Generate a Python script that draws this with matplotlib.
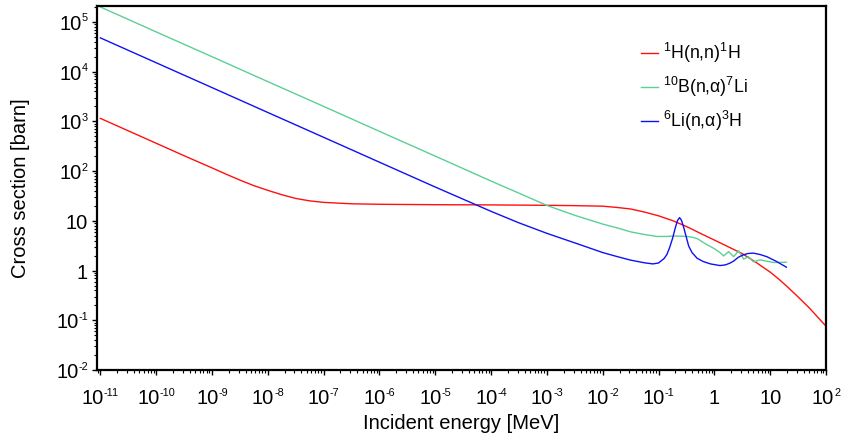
import numpy as np
import matplotlib
matplotlib.use("Agg")
import matplotlib.pyplot as plt
from matplotlib.ticker import LogLocator, NullFormatter

plt.rcParams['font.family'] = ['Liberation Sans', 'DejaVu Sans']
plt.rcParams['mathtext.fontset'] = 'custom'
plt.rcParams['mathtext.rm'] = 'Liberation Sans'
plt.rcParams['mathtext.it'] = 'Liberation Sans:italic'
plt.rcParams['mathtext.default'] = 'regular'

# ---- data (energies in MeV, cross sections in barn) ----
h_E = [1e-11, 1e-10, 3.16e-10, 1e-9, 1.78e-9, 3.16e-9, 5.62e-9, 1e-8, 1.78e-8, 3.16e-8,
       5.62e-8, 1e-7, 3.16e-7, 1e-6, 1e-5, 1e-4, 1e-3, 3.16e-3, 1e-2, 0.0178, 0.0316,
       0.0562, 0.1, 0.178, 0.316, 0.562, 1.0, 1.78, 3.16, 5.62, 10.0, 14.1, 20.0,
       31.6, 50.0, 100.0]
h_sig = [1150, 363, 204, 116, 87, 66, 51, 41, 33.5, 28.2,
         25.2, 23.5, 22.0, 21.5, 21.1, 20.9, 20.5, 20.2, 19.7, 18.6, 17.3,
         15.0, 12.6, 10.1, 7.7, 5.6, 4.1, 3.0, 2.19, 1.45, 0.93, 0.68, 0.48,
         0.295, 0.178, 0.076]

b_E = [1e-11, 1e-10, 1e-9, 1e-8, 1e-7, 1e-6, 1e-5, 1e-4, 3.16e-4, 1e-3, 3.16e-3,
       1e-2, 0.0178, 0.0316, 0.0562, 0.0933, 0.141, 0.184, 0.282, 0.355, 0.427,
       0.501, 0.562, 0.741, 0.977, 1.26, 1.46, 1.8, 2.21, 2.72, 3.35, 4.07, 5.01,
       6.61, 11.5, 19.5]
b_sig = [2.0e5, 63000, 20000, 6300, 2000, 630, 200, 63, 36, 20.4, 12.9,
         8.6, 7.25, 6.0, 5.3, 4.85, 4.85, 4.95, 4.9, 4.8, 4.6,
         4.35, 4.0, 3.3, 2.8, 2.3, 1.97, 2.4, 1.9, 2.5, 1.7, 1.9, 1.5,
         1.64, 1.45, 1.47]

li_E = [1e-11, 1e-10, 1e-9, 1e-8, 1e-7, 1e-6, 1e-5, 1e-4, 3.16e-4, 1e-3, 3.16e-3,
        1e-2, 0.0178, 0.0316, 0.0562, 0.0794, 0.1, 0.126, 0.141, 0.158, 0.178, 0.2,
        0.219, 0.238, 0.257, 0.282, 0.316, 0.347, 0.398, 0.49, 0.631, 0.851, 1.26,
        1.58, 1.93, 2.21, 2.69, 3.31, 3.98, 5.01, 6.61, 8.71, 12.6, 19.5]
li_sig = [47800, 15100, 4780, 1510, 478, 151, 47.8, 15.5, 9.1, 5.6, 3.6,
          2.3, 1.92, 1.62, 1.43, 1.36, 1.42, 1.75, 2.1, 2.9, 4.4, 7.3,
          10.2, 11.6, 10.3, 7.4, 4.6, 3.1, 2.3, 1.77, 1.52, 1.36, 1.26,
          1.3, 1.42, 1.55, 1.85, 2.07, 2.2, 2.24, 2.1, 1.9, 1.55, 1.17]

labels = [r'$^{1}$H(n,n)$^{1}$H', r'$^{10}$B(n,α)$^{7}$Li', r'$^{6}$Li(n,α)$^{3}$H']
colors = ['#ff1010', '#5ccf95', '#1010f5']

x_decades = list(range(-11, 3))
y_decades = list(range(-2, 6))

FS = 14.5      # main label size (pt)
FS_SUP = 7.8   # superscript size (pt)
PX = 0.72      # points per pixel at 100 dpi

fig = plt.figure(figsize=(8.41, 4.36), dpi=100)
ax = fig.add_axes([97/841, 1 - 370/436, (826 - 97)/841, (370 - 6)/436])

for E, s, lab, c in zip([h_E, b_E, li_E], [h_sig, b_sig, li_sig], labels, colors):
    ax.plot(E, s, color=c, lw=1.0, label=lab)

ax.set_xscale('log')
ax.set_yscale('log')
ax.set_xlim(10**-11.06, 1e2)
ax.set_ylim(1e-2, 2.09e5)

for axis in (ax.xaxis, ax.yaxis):
    axis.set_major_locator(LogLocator(base=10, numticks=30))
    axis.set_minor_locator(LogLocator(base=10, subs=np.arange(2, 10), numticks=30))
    axis.set_minor_formatter(NullFormatter())

ax.tick_params(which='major', direction='out', length=3.5, width=1.0,
               labelbottom=False, labelleft=False)
ax.tick_params(which='minor', direction='out', length=2, width=0.8)
ax.tick_params(top=False, right=False, which='both')
for sp in ax.spines.values():
    sp.set_linewidth(1.6)

renderer = fig.canvas.get_renderer()


def parts(n):
    if n == 0:
        return '1', ''
    if n == 1:
        return '10', ''
    return '10', str(n)


# x tick labels: "10" with small raised exponent, centred on the tick
for n in x_decades:
    base, sup = parts(n)
    v = 10.0 ** n
    t1 = ax.annotate(base, xy=(v, 0), xycoords=('data', 'axes fraction'),
                     xytext=(0, -34 * PX), textcoords='offset points',
                     ha='left', va='baseline', fontsize=FS, annotation_clip=False)
    w1 = t1.get_window_extent(renderer).width
    w2 = 0
    t2 = None
    if sup:
        t2 = ax.annotate(sup, xy=(v, 0), xycoords=('data', 'axes fraction'),
                         xytext=(0, -26 * PX), textcoords='offset points',
                         ha='left', va='baseline', fontsize=FS_SUP, annotation_clip=False)
        w2 = t2.get_window_extent(renderer).width
    total = w1 + w2
    t1.xyann = (-total / 2 * PX, -34 * PX)
    if t2 is not None:
        t2.xyann = ((-total / 2 + w1) * PX, -26 * PX)

# y tick labels: right aligned next to the axis
for n in y_decades:
    base, sup = parts(n)
    v = 10.0 ** n
    w2 = 0
    if sup:
        t2 = ax.annotate(sup, xy=(0, v), xycoords=('axes fraction', 'data'),
                         xytext=(-9 * PX, 0.5 * PX), textcoords='offset points',
                         ha='right', va='baseline', fontsize=FS_SUP, annotation_clip=False)
        w2 = t2.get_window_extent(renderer).width
    ax.annotate(base, xy=(0, v), xycoords=('axes fraction', 'data'),
                xytext=((-9 - w2) * PX, -8 * PX), textcoords='offset points',
                ha='right', va='baseline', fontsize=FS, annotation_clip=False)

ax.set_xlabel('Incident energy [MeV]', fontsize=FS, va='baseline')
ax.xaxis.set_label_coords(0.5, (370 - 429) / 364)
ax.set_ylabel('Cross section [barn]', fontsize=FS, va='center')
ax.yaxis.set_label_coords((21 - 97) / 729, 0.5)

ax.legend(loc='upper left', bbox_to_anchor=((641 - 97) / 729, 1 - (41 - 6) / 364),
          frameon=False, fontsize=12.7, borderpad=0, borderaxespad=0,
          handlelength=0.95, handletextpad=0.3, labelspacing=0.55)

fig.savefig('out.png', dpi=100)
